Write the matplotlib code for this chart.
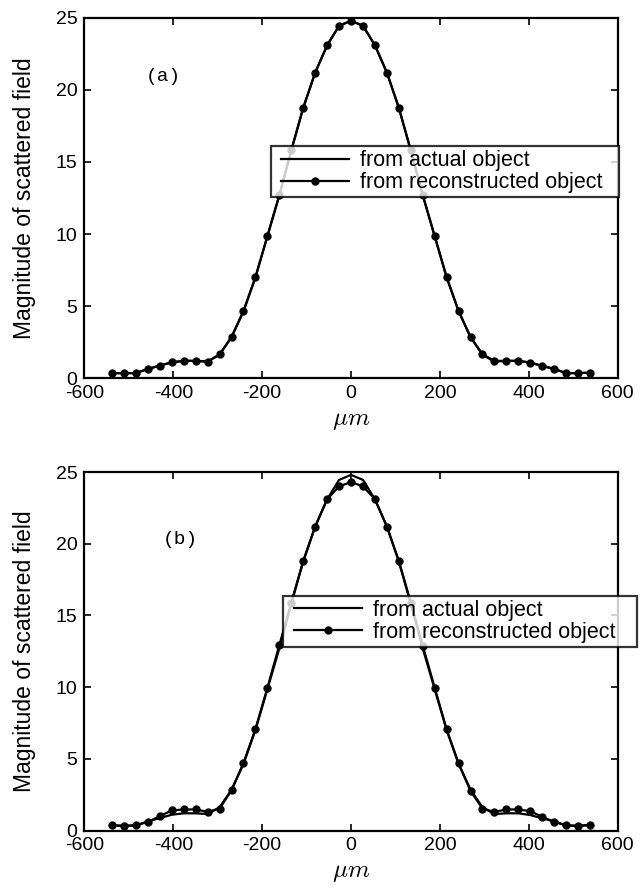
import numpy as np
import matplotlib
matplotlib.use("Agg")
import matplotlib.pyplot as plt
from matplotlib.lines import Line2D
from matplotlib.legend_handler import HandlerLine2D

# sample positions (um), 41 samples
x_um = np.linspace(-538, 538, 41)

# |E| from actual object (same in both panels)
field_actual = [0.35, 0.35, 0.35, 0.64, 0.87, 1.1, 1.2, 1.2, 1.15, 1.62,
                2.85, 4.65, 7.0, 9.85, 12.7, 15.8, 18.76, 21.2, 23.1, 24.45,
                24.8,
                24.45, 23.1, 21.2, 18.76, 15.8, 12.7, 9.85, 7.0, 4.65, 2.85,
                1.62, 1.15, 1.2, 1.2, 1.08, 0.85, 0.64, 0.35, 0.35, 0.38]

# |E| from reconstructed object, panel (a)
field_recon_a = [0.35, 0.35, 0.35, 0.64, 0.87, 1.1, 1.2, 1.2, 1.15, 1.66,
                 2.85, 4.65, 7.0, 9.85, 12.7, 15.8, 18.76, 21.2, 23.1, 24.45,
                 24.8,
                 24.45, 23.1, 21.2, 18.76, 15.8, 12.7, 9.85, 7.0, 4.65, 2.85,
                 1.66, 1.2, 1.2, 1.2, 1.08, 0.85, 0.64, 0.35, 0.35, 0.38]

# |E| from reconstructed object, panel (b)
field_recon_b = [0.37, 0.3, 0.37, 0.6, 1.0, 1.4, 1.47, 1.47, 1.3, 1.53,
                 2.8, 4.7, 7.08, 9.96, 12.93, 15.9, 18.8, 21.2, 23.1, 24.0,
                 24.3,
                 24.0, 23.1, 21.2, 18.8, 15.9, 12.9, 9.96, 7.05, 4.68, 2.75,
                 1.53, 1.3, 1.47, 1.47, 1.35, 0.95, 0.6, 0.37, 0.3, 0.4]

plt.rcParams['font.family'] = ['Liberation Sans', 'DejaVu Sans']
plt.rcParams['mathtext.fontset'] = 'cm'
plt.rcParams['axes.unicode_minus'] = False

fig = plt.figure(figsize=(6.4, 8.94), dpi=100)
ax1 = fig.add_axes([0.132, 0.577, 0.833, 0.403])
ax2 = fig.add_axes([0.132, 0.071, 0.833, 0.401])

# legend box (x0, width, top) in axes fraction
panels = [(ax1, field_recon_a, "(a)", (-463, 20.9), (0.349, 0.653, 0.644)),
          (ax2, field_recon_b, "(b)", (-423, 20.3), (0.373, 0.664, 0.655))]

for ax, recon, tag, tag_pos, leg_box in panels:
    ax.plot(x_um, field_actual, color="black", lw=1.6, label="from actual object")
    ax.plot(x_um, recon, color="black", lw=1.6, marker="o", ms=5,
            label="from reconstructed object")
    ax.set_xlim(-600, 600)
    ax.set_ylim(0, 25)
    ax.set_xticks(np.arange(-600, 601, 200))
    ax.set_yticks(np.arange(0, 26, 5))
    ax.tick_params(direction="in", top=True, right=True, length=5, width=1.2,
                   labelsize=14)
    ax.tick_params(axis="x", pad=5)
    ax.tick_params(axis="y", pad=5)
    for s in ax.spines.values():
        s.set_linewidth(1.6)
    ax.set_xlabel(r"$\mu m$", fontsize=18, labelpad=4)
    ax.set_ylabel("Magnitude of scattered field", fontsize=16.5, labelpad=14)
    ax.text(tag_pos[0], tag_pos[1], tag, family="Liberation Mono", fontsize=14,
            va="center")
    x0, w, top = leg_box
    leg = ax.legend(loc="upper left", bbox_to_anchor=(x0, 0, w, top),
                    mode="expand", fontsize=15.5,
                    frameon=True, fancybox=False, edgecolor="black",
                    borderpad=0.2, labelspacing=0.03, handlelength=3.45,
                    handletextpad=0.5, borderaxespad=0,
                    handler_map={Line2D: HandlerLine2D(xpad=0.28)})
    leg.get_frame().set_linewidth(1.6)

fig.savefig("out.png", dpi=100, facecolor="white")
